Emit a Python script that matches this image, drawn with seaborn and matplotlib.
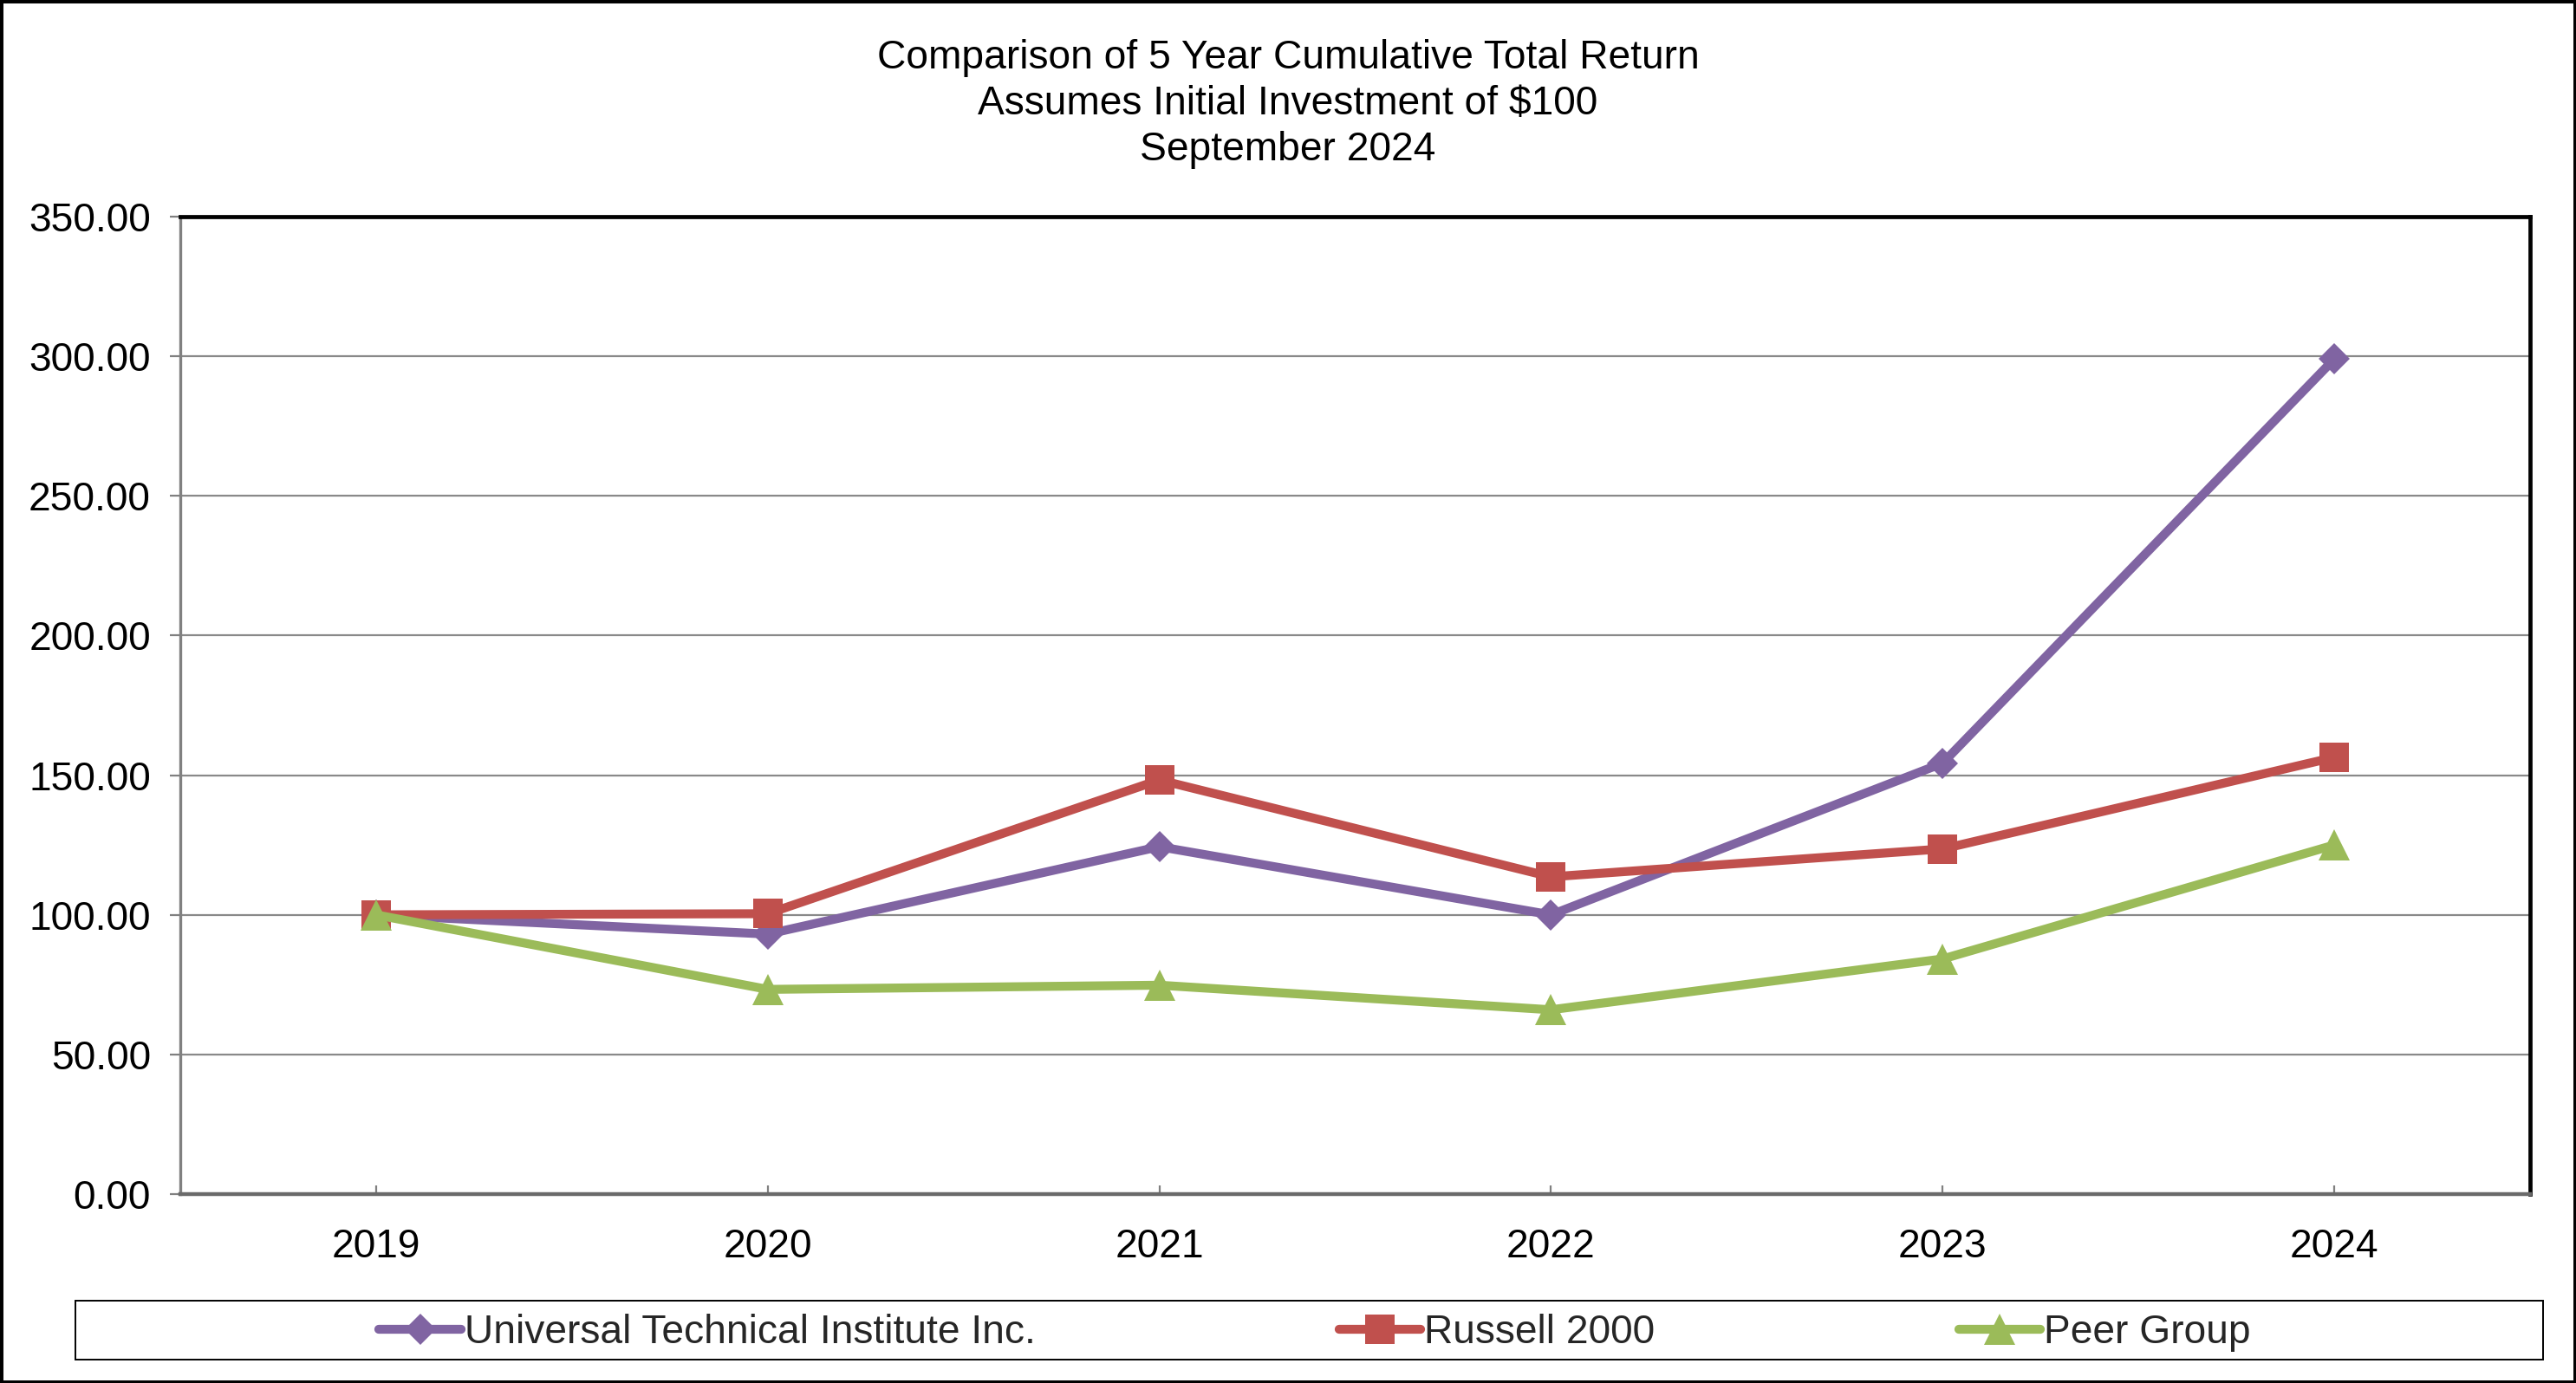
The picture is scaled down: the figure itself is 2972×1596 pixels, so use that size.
import matplotlib
matplotlib.use("Agg")
import matplotlib.pyplot as plt
from matplotlib.lines import Line2D
from matplotlib.patches import Rectangle
import seaborn as sns
import pandas as pd

# ---- data ----
years = ["2019", "2020", "2021", "2022", "2023", "2024"]
uti = [100.00, 93.10, 124.40, 100.00, 154.30, 299.00]
russell = [100.00, 100.40, 148.30, 113.60, 123.60, 156.40]
peer = [100.00, 73.30, 74.80, 66.00, 84.20, 125.00]
series_names = ["Universal Technical Institute Inc.", "Russell 2000", "Peer Group"]
title_lines = ["Comparison of 5 Year Cumulative Total Return",
               "Assumes Initial Investment of $100",
               "September 2024"]
y_ticks = [0, 50, 100, 150, 200, 250, 300, 350]

df = pd.DataFrame({
    "Year": years * 3,
    "Value": uti + russell + peer,
    "Series": [series_names[0]] * 6 + [series_names[1]] * 6 + [series_names[2]] * 6,
})

colors = {series_names[0]: "#8064A2", series_names[1]: "#C0504D", series_names[2]: "#9BBB59"}
markers = {series_names[0]: "D", series_names[1]: "s", series_names[2]: "^"}
msizes = {series_names[0]: 9.0, series_names[1]: 12.0, series_names[2]: 13.0}
LW = 3.7
FS = 16.6

sns.set_theme(style="white")
plt.rcParams["font.family"] = ["Liberation Sans", "DejaVu Sans"]

W, H = 2972, 1596
fig = plt.figure(figsize=(W / 200, H / 200), dpi=200)
ax = fig.add_axes([208 / W, 1 - 1378 / H, (2919 - 208) / W, (1378 - 250) / H])

for name in series_names:
    sub = df[df["Series"] == name]
    sns.lineplot(data=sub, x="Year", y="Value", ax=ax, color=colors[name],
                 marker=markers[name], markersize=msizes[name], markeredgewidth=0,
                 linewidth=LW, sort=False, legend=False, zorder=3)

ax.set_xlim(-0.5, len(years) - 0.5)
ax.set_ylim(0, 350)
ax.set_yticks(y_ticks)
ax.set_yticklabels([f"{v:.2f}" for v in y_ticks])
ax.set_xlabel("")
ax.set_ylabel("")
ax.yaxis.grid(True, color="#898989", linewidth=0.8)
ax.xaxis.grid(False)
ax.set_axisbelow(True)

ax.tick_params(axis="y", direction="out", length=4.3, width=0.8, color="#808080",
               pad=8.0, labelsize=FS, labelcolor="black", left=True)
ax.tick_params(axis="x", direction="in", length=3.6, width=0.8, color="#808080",
               pad=14, labelsize=FS, labelcolor="black", bottom=True)

for s in ["top", "right"]:
    ax.spines[s].set_color("black")
    ax.spines[s].set_linewidth(1.7)
ax.spines["left"].set_color("#808080")
ax.spines["left"].set_linewidth(1.2)
ax.spines["bottom"].set_color("#6a6a6a")
ax.spines["bottom"].set_linewidth(1.6)

# title
for t, yp in zip(title_lines, [67, 120, 173]):
    fig.text(0.5, 1 - yp / H, t, ha="center", va="center", fontsize=FS, color="black")

# legend box
fig.patches.append(Rectangle((87 / W, 1 - 1569 / H), (2934 - 87) / W, (1569 - 1501) / H,
                             transform=fig.transFigure, fill=False, ec="black", lw=0.7))
handles = [Line2D([0], [0], color=colors[n], marker=markers[n], markersize=msizes[n],
                  markeredgewidth=0, linewidth=LW) for n in series_names]
fig.legend(handles, series_names, loc="center", bbox_to_anchor=(1517 / W, 1 - 1538 / H),
           ncol=3, frameon=False, handlelength=2.05, handletextpad=0.08,
           columnspacing=7.6, fontsize=FS)

# figure border
fig.patches.append(Rectangle((0, 0), 1, 1, transform=fig.transFigure, fill=False,
                             ec="black", lw=2.5))

fig.savefig("out.png", dpi=200, facecolor="white")
